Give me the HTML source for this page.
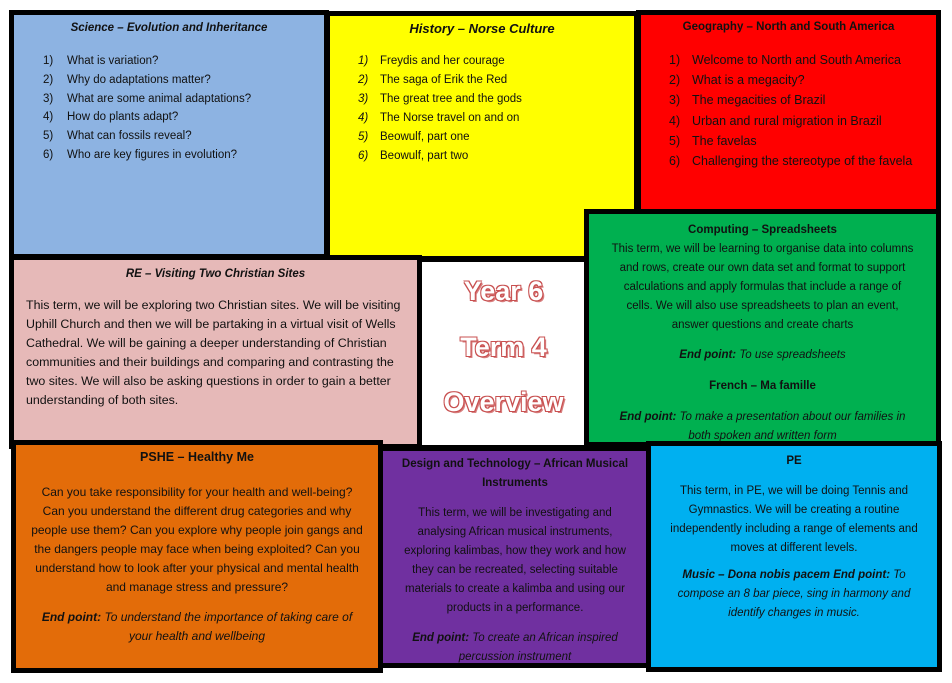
<!DOCTYPE html>
<html><head><meta charset="utf-8"><style>
*{margin:0;padding:0;box-sizing:border-box}
body{width:952px;height:683px;background:#fff;position:relative;overflow:hidden;font-family:"Liberation Sans",sans-serif;color:#111}
.b{position:absolute;border:5px solid #000;}
.t{position:absolute;font-size:11.5px;white-space:nowrap}
.c{position:absolute;text-align:center;font-size:11.5px;line-height:19px;white-space:nowrap}
.bi{font-weight:bold;font-style:italic}
.bo{font-weight:bold}
.it{font-style:italic}
.big{position:absolute;left:422px;width:163px;text-align:center;font-size:27px;font-weight:bold;color:#fff;text-shadow:-1px -1px 0 #c85050,1px -1px 0 #c85050,-1px 1px 0 #c85050,1px 1px 0 #c85050,2px 2px 0 #d88080}
</style></head><body>
<div class="b" style="left:9px;top:10px;width:320px;height:249px;background:#8db3e2"></div>
<div class="b" style="left:325px;top:11px;width:314px;height:250px;background:#ffff00"></div>
<div class="b" style="left:636px;top:10px;width:305px;height:204px;background:#ff0000"></div>
<div class="b" style="left:9px;top:255px;width:413px;height:194px;background:#e6b9b8"></div>
<div class="b" style="left:418px;top:258px;width:171px;height:191px;background:#fff;border-width:4px"></div>
<div class="b" style="left:584px;top:209px;width:357px;height:238px;background:#00b050"></div>
<div class="b" style="left:11px;top:440px;width:372px;height:233px;background:#e36c09"></div>
<div class="b" style="left:378px;top:446px;width:274px;height:222px;background:#7030a0"></div>
<div class="b" style="left:646px;top:441px;width:296px;height:231px;background:#00b0f0"></div>

<div class="c bi" style="left:14px;width:310px;top:19px">Science – Evolution and Inheritance</div>
<div class="t" style="left:43px;top:52px;line-height:18.8px">1)<br>2)<br>3)<br>4)<br>5)<br>6)</div>
<div class="t" style="left:67px;top:52px;line-height:18.8px">What is variation?<br>Why do adaptations matter?<br>What are some animal adaptations?<br>How do plants adapt?<br>What can fossils reveal?<br>Who are key figures in evolution?</div>

<div class="c bi" style="left:330px;width:304px;top:19px;font-size:13px">History – Norse Culture</div>
<div class="t it" style="left:358px;top:52px;line-height:19px">1)<br>2)<br>3)<br>4)<br>5)<br>6)</div>
<div class="t" style="left:380px;top:52px;line-height:19px">Freydis and her courage<br>The saga of Erik the Red<br>The great tree and the gods<br>The Norse travel on and on<br>Beowulf, part one<br>Beowulf, part two</div>

<div class="c bo" style="left:640px;width:297px;top:18px">Geography – North and South America</div>
<div class="t" style="left:669px;top:50px;line-height:20.2px;font-size:12.5px">1)<br>2)<br>3)<br>4)<br>5)<br>6)</div>
<div class="t" style="left:692px;top:50px;line-height:20.2px;font-size:12.5px">Welcome to North and South America<br>What is a megacity?<br>The megacities of Brazil<br>Urban and rural migration in Brazil<br>The favelas<br>Challenging the stereotype of the favela</div>

<div class="c" style="left:589px;width:347px;top:221px"><span class="bo">Computing – Spreadsheets</span><br>This term, we will be learning to organise data into columns<br>and rows, create our own data set and format to support<br>calculations and apply formulas that include a range of<br>cells. We will also use spreadsheets to plan an event,<br>answer questions and create charts</div>
<div class="c it" style="left:589px;width:347px;top:346px"><b>End point:</b> To use spreadsheets</div>
<div class="c bo" style="left:589px;width:347px;top:377px">French – Ma famille</div>
<div class="c it" style="left:589px;width:347px;top:408px"><b>End point:</b> To make a presentation about our families in<br>both spoken and written form</div>

<div class="c bi" style="left:14px;width:403px;top:265px">RE – Visiting Two Christian Sites</div>
<div class="t" style="left:26px;top:296px;line-height:19px;font-size:12.4px;width:384px;white-space:normal">This term, we will be exploring two Christian sites. We will be visiting Uphill Church and then we will be partaking in a virtual visit of Wells Cathedral. We will be gaining a deeper understanding of Christian communities and their buildings and comparing and contrasting the two sites. We will also be asking questions in order to gain a better understanding of both sites.</div>

<div class="big" style="top:276px">Year 6</div>
<div class="big" style="top:332px">Term 4</div>
<div class="big" style="top:387px">Overview</div>

<div class="c bo" style="left:16px;width:362px;top:448px;font-size:12.5px">PSHE – Healthy Me</div>
<div class="c" style="left:16px;width:362px;top:483px;font-size:12px">Can you take responsibility for your health and well-being?<br>Can you understand the different drug categories and why<br>people use them? Can you explore why people join gangs and<br>the dangers people may face when being exploited? Can you<br>understand how to look after your physical and mental health<br>and manage stress and pressure?</div>
<div class="c it" style="left:16px;width:362px;top:608px;font-size:12px"><b>End point:</b> To understand the importance of taking care of<br>your health and wellbeing</div>

<div class="c bo" style="left:383px;width:264px;top:455px">Design and Technology – African Musical<br>Instruments</div>
<div class="c" style="left:383px;width:264px;top:504px">This term, we will be investigating and<br>analysing African musical instruments,<br>exploring kalimbas, how they work and how<br>they can be recreated, selecting suitable<br>materials to create a kalimba and using our<br>products in a performance.</div>
<div class="c it" style="left:383px;width:264px;top:629px"><b>End point:</b> To create an African inspired<br>percussion instrument</div>

<div class="c bo" style="left:651px;width:286px;top:452px">PE</div>
<div class="c" style="left:651px;width:286px;top:482px">This term, in PE, we will be doing Tennis and<br>Gymnastics. We will be creating a routine<br>independently including a range of elements and<br>moves at different levels.</div>
<div class="c it" style="left:651px;width:286px;top:566px"><b>Music – Dona nobis pacem End point:</b> To<br>compose an 8 bar piece, sing in harmony and<br>identify changes in music.</div>
</body></html>
